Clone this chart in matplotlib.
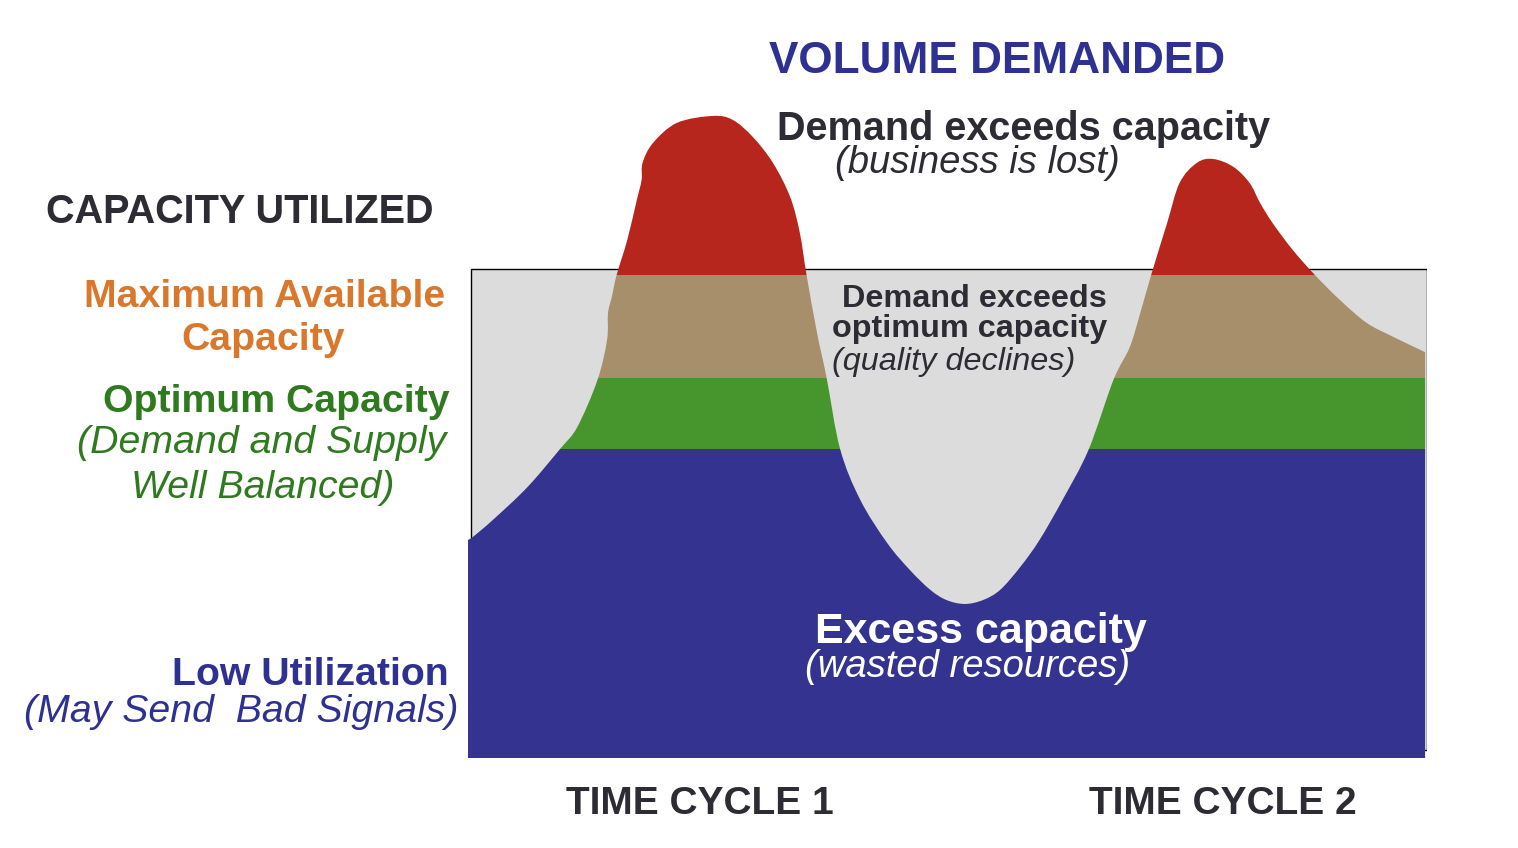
import numpy as np
import matplotlib
matplotlib.use("Agg")
import matplotlib.pyplot as plt
from matplotlib.patches import PathPatch, Rectangle
from matplotlib.path import Path

# demand curve over two time cycles (time 0-100, volume: 100 = top of capacity box)
time = [0, 0.5, 2.6, 6.2, 9.6, 11.4, 13.5, 14.5, 14.6, 15.0, 15.5, 16.6, 17.6, 18.1,
        18.2, 19.3, 21.8, 25.5, 27.6, 29.7, 31.8, 33.6, 34.6, 35.3, 36.4, 37.4, 38.8,
        40.9, 43.7, 46.1, 48.2, 49.9, 51.8, 53.7, 55.5, 57.6, 59.6, 62.0, 64.7, 67.3,
        69.0, 70.1, 71.3, 72.9, 74.2, 76.0, 77.7, 79.8, 81.5, 82.6, 83.9, 86.0, 88.3,
        90.9, 93.7, 96.5, 99.8]
demand = [44.6, 45.2, 48.7, 55.4, 63.2, 67.7, 77.3, 85.5, 91.0, 94.3, 98.8, 105.9,
          114.1, 118.2, 121.7, 125.8, 129.9, 131.3, 130.5, 127.0, 121.7, 114.7, 107.4,
          98.8, 86.9, 77.7, 63.2, 52.8, 44.0, 38.4, 34.4, 32.3, 31.5, 32.3, 34.4, 39.1,
          44.6, 52.8, 63.0, 77.3, 84.0, 91.0, 99.2, 109.4, 117.6, 121.7, 122.5, 120.9,
          117.6, 113.5, 109.4, 103.9, 98.8, 93.7, 89.0, 86.1, 83.0]

# capacity levels
low_level = 63.2      # top of low utilization
optimum_level = 77.7  # top of optimum capacity
max_level = 98.8      # maximum available capacity
box_top = 100

band_colors = ["#343490", "#46962d", "#a78f6b", "#b6261c"]
gray = "#dcdcdc"
navy = "#2e3192"
dark = "#2d2b33"
orange = "#d9782d"
green = "#2f7a1f"

W, H = 1518, 848
fig = plt.figure(figsize=(W / 100, H / 100), dpi=100)
ax = fig.add_axes([468 / W, (H - 758) / H, 959 / W, 658 / H])
ax.set_xlim(0, 100)
ax.set_ylim(0, 658 / 4.89)
ax.axis("off")

# gray capacity box
ax.add_patch(Rectangle((0.3, 1.6), 99.7, box_top - 1.6, facecolor=gray,
                       edgecolor="black", linewidth=1, zorder=1))

# smooth outline through the demand points (catmull-rom drawn as bezier)
P = np.column_stack([time, demand])
n = len(P)
verts = [(time[0], 0), tuple(P[0])]
codes = [Path.MOVETO, Path.LINETO]
for i in range(n - 1):
    p0 = P[max(i - 1, 0)]
    p1 = P[i]
    p2 = P[i + 1]
    p3 = P[min(i + 2, n - 1)]
    verts += [tuple(p1 + (p2 - p0) / 6), tuple(p2 - (p3 - p1) / 6), tuple(p2)]
    codes += [Path.CURVE4] * 3
verts += [(time[-1], 0), (time[0], 0)]
codes += [Path.LINETO, Path.CLOSEPOLY]
shape = PathPatch(Path(verts, codes), facecolor="none", edgecolor="none")
ax.add_patch(shape)

levels = [0, low_level, optimum_level, max_level, 200]
for i, c in enumerate(band_colors):
    band = ax.axhspan(levels[i], levels[i + 1], color=c, linewidth=0, zorder=2)
    band.set_clip_path(shape)


def put(s, px, py, **kw):
    fig.text(px / W, 1 - py / H, s, va="baseline", **kw)


bold = dict(family="Liberation Sans", weight="bold")
ital = dict(family="Liberation Sans", style="italic")

put("VOLUME DEMANDED", 997, 73, ha="center", color=navy, fontsize=31.8, **bold)
put("Demand exceeds capacity", 1024, 140, ha="center", color=dark, fontsize=28.5, **bold)
put("(business is lost)", 977, 173, ha="center", color=dark, fontsize=27.5, **ital)

put("CAPACITY UTILIZED", 240, 223, ha="center", color=dark, fontsize=28.5, **bold)
put("Maximum Available", 265, 307, ha="center", color=orange, fontsize=28.3, **bold)
put("Capacity", 263, 350, ha="center", color=orange, fontsize=28.3, **bold)
put("Optimum Capacity", 276, 412, ha="center", color=green, fontsize=28.3, **bold)
put("(Demand and Supply", 262, 453, ha="center", color=green, fontsize=28.3, **ital)
put("Well Balanced)", 263, 498, ha="center", color=green, fontsize=28.3, **ital)
put("Low Utilization", 449, 685, ha="right", color=navy, fontsize=28.3, **bold)
put("(May Send  Bad Signals)", 459, 722, ha="right", color=navy, fontsize=28.3, **ital)

put("Demand exceeds", 1107, 307, ha="right", color=dark, fontsize=23.3, **bold)
put("optimum capacity", 832, 337, ha="left", color=dark, fontsize=23.3, **bold)
put("(quality declines)", 832, 370, ha="left", color=dark, fontsize=23.3, **ital)

put("Excess capacity", 981, 643, ha="center", color="white", fontsize=31, **bold)
put("(wasted resources)", 968, 677, ha="center", color="white", fontsize=27.5, **ital)

put("TIME CYCLE 1", 700, 814, ha="center", color=dark, fontsize=28, **bold)
put("TIME CYCLE 2", 1223, 814, ha="center", color=dark, fontsize=28, **bold)

fig.savefig("out.png", dpi=100, facecolor="white")
